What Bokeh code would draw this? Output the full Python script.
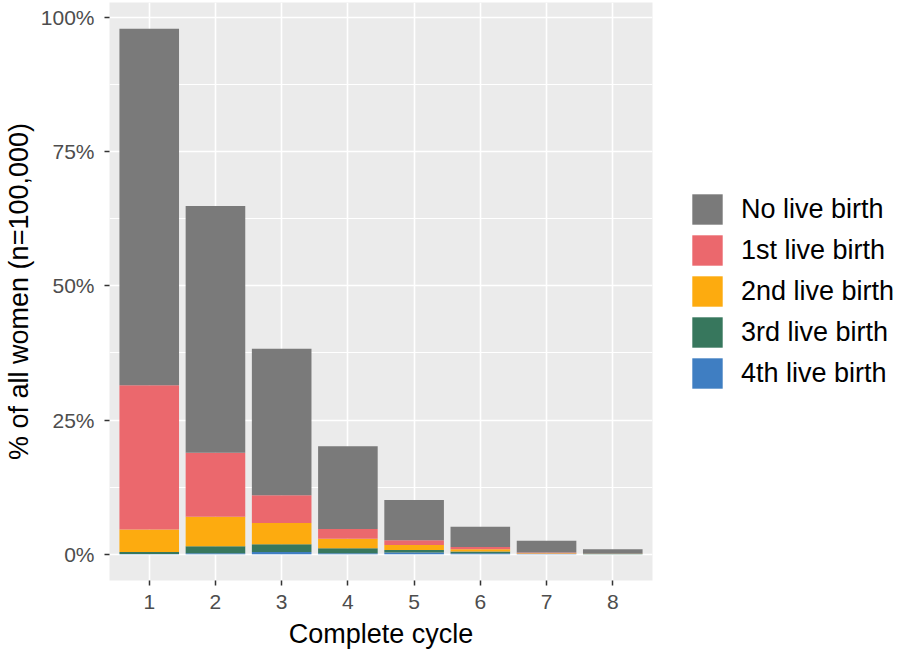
from bokeh.plotting import figure
from bokeh.models import (ColumnDataSource, Legend, LegendItem, FixedTicker,
                          PrintfTickFormatter, Range1d)
from bokeh.embed import file_html
from bokeh.resources import INLINE

cycles = [1, 2, 3, 4, 5, 6, 7, 8]
cycle_labels = ["1", "2", "3", "4", "5", "6", "7", "8"]
no_live = [66.4, 46.0, 27.3, 15.4, 7.5, 3.74, 2.2, 0.83]
first = [26.9, 11.9, 5.2, 1.8, 0.9, 0.43, 0.1, 0.03]
second = [4.2, 5.5, 3.95, 1.8, 0.9, 0.43, 0.1, 0.05]
third = [0.35, 1.3, 1.45, 0.9, 0.5, 0.3, 0.05, 0.01]
fourth = [0.05, 0.2, 0.4, 0.2, 0.3, 0.2, 0.05, 0.01]

series_keys = ["fourth", "third", "second", "first", "no_live"]
series_names = ["4th live birth", "3rd live birth", "2nd live birth",
                "1st live birth", "No live birth"]
colors = ["#3F7EC2", "#37775D", "#FDAB0F", "#EB686D", "#7A7A7A"]
y_ticks = [0, 25, 50, 75, 100]
y_minor = [12.5, 37.5, 62.5, 87.5]

src = ColumnDataSource(dict(x=cycles, no_live=no_live, first=first,
                            second=second, third=third, fourth=fourth))

totals = [a + b + c + d + e for a, b, c, d, e in zip(no_live, first, second, third, fourth)]
ymax = max(totals)

FONT = "Liberation Sans"

p = figure(frame_width=543, frame_height=578, output_backend="svg", toolbar_location=None,
           x_range=Range1d(0.4, 8.6),
           y_range=Range1d(-0.05 * ymax, ymax * 1.05),
           min_border_left=103, min_border_right=0, min_border_top=2,
           min_border_bottom=0)

renderers = p.vbar_stack(series_keys, x="x", width=0.9, source=src,
                         fill_color=colors, line_color=None)

p.background_fill_color = "#EBEBEB"
p.border_fill_color = "white"
p.outline_line_color = None

p.xaxis.ticker = FixedTicker(ticks=cycles)
p.xaxis.major_label_overrides = {c: l for c, l in zip(cycles, cycle_labels)}
p.yaxis.ticker = FixedTicker(ticks=y_ticks, minor_ticks=y_minor)
p.yaxis.formatter = PrintfTickFormatter(format="%d%%")

for ax in (p.xaxis[0], p.yaxis[0]):
    ax.axis_line_color = None
    ax.major_tick_line_color = "#333333"
    ax.major_tick_line_width = 1.5
    ax.major_tick_out = 5
    ax.major_tick_in = 0
    ax.minor_tick_line_color = None
    ax.major_label_text_font = FONT
    ax.major_label_text_font_size = "21px"
    ax.major_label_text_color = "#4D4D4D"
    ax.axis_label_text_font = FONT
    ax.axis_label_text_font_size = "27px"
    ax.axis_label_text_font_style = "normal"
    ax.axis_label_text_color = "black"

p.xaxis.axis_label = "Complete cycle"
p.yaxis.axis_label = "% of all women (n=100,000)"
p.xaxis.major_label_standoff = 9
p.xaxis.axis_label_standoff = 7
p.yaxis.major_label_standoff = 10
p.yaxis.axis_label_standoff = 4

p.xgrid.grid_line_color = "white"
p.xgrid.grid_line_width = 1.6
p.ygrid.grid_line_color = "white"
p.ygrid.grid_line_width = 1.6
p.ygrid.minor_grid_line_color = "white"
p.ygrid.minor_grid_line_width = 1.1

items = [LegendItem(label=n, renderers=[r]) for n, r in zip(series_names, renderers)]
items = items[::-1]
legend = Legend(items=items, location="center_left")
legend.glyph_width = 38
legend.glyph_height = 38
legend.label_height = 38
legend.spacing = 3
legend.label_standoff = 15
legend.label_text_font = FONT
legend.label_text_font_size = "27px"
legend.label_text_color = "black"
legend.border_line_color = None
legend.background_fill_alpha = 0
legend.margin = 36
legend.padding = 10
p.add_layout(legend, "right")

open("out.html", "w").write(file_html(p, INLINE))
